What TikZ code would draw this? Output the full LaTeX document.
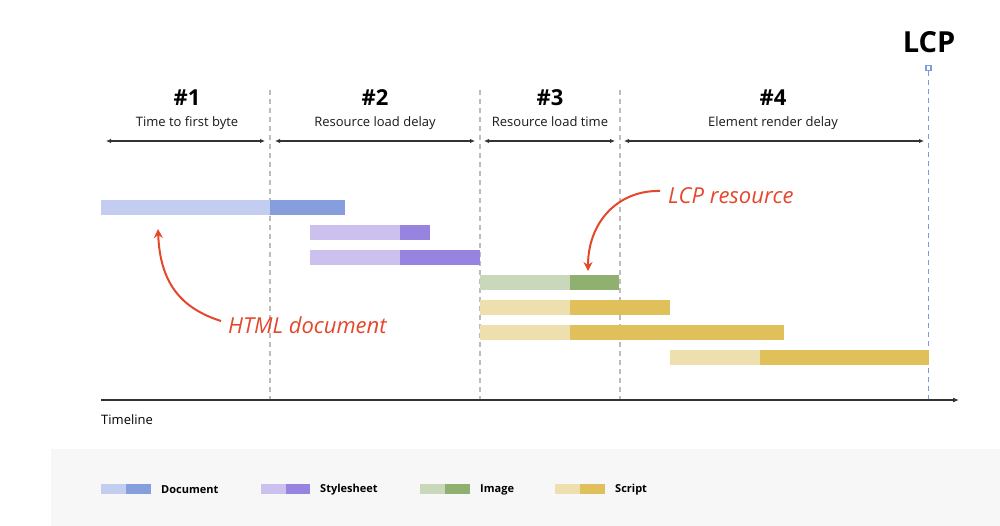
\documentclass[tikz,border=0pt]{standalone}
\usepackage{fontspec}
\setmainfont{Open Sans}
\usetikzlibrary{arrows.meta}
\definecolor{docL}{HTML}{C3CDEF}
\definecolor{docD}{HTML}{869FDC}
\definecolor{cssL}{HTML}{CBC0EE}
\definecolor{cssD}{HTML}{9783E0}
\definecolor{imgL}{HTML}{C9D7BA}
\definecolor{imgD}{HTML}{8FB06E}
\definecolor{jsL}{HTML}{EEDFAE}
\definecolor{jsD}{HTML}{E0C05A}
\definecolor{anno}{HTML}{E5472B}
\definecolor{lcpblue}{HTML}{7B9CE0}
\definecolor{divgray}{HTML}{BDBDBD}
\definecolor{ink}{HTML}{333333}
\definecolor{legbg}{HTML}{F7F7F7}
\begin{document}
\begin{tikzpicture}[x=1pt,y=-1pt,
  phase/.style={font=\bfseries\fontsize{22}{24}\selectfont, anchor=base, inner sep=0},
  sub/.style={font=\fontsize{13}{15}\selectfont, text=black!90, anchor=base, inner sep=0},
  span/.style={{Latex[length=5pt,width=4.5pt]}-{Latex[length=5pt,width=4.5pt]}, ink, line width=1.6pt},
  divider/.style={divgray, line width=1.5pt, dash pattern=on 5pt off 4pt},
  lcpline/.style={lcpblue, line width=1.6pt, dash pattern=on 5pt off 4pt},
  hand/.style={anno, font=\itshape\fontsize{22}{24}\selectfont, inner sep=0pt},
  annoarrow/.style={anno, line width=2pt, -{Stealth[length=9pt,width=9pt]}},
  legtext/.style={font=\bfseries\fontsize{11}{13}\selectfont, anchor=west, inner sep=0},
]
\useasboundingbox (0,0) rectangle (1000,526);
\fill[white] (0,0) rectangle (1000,526);
% legend background
\fill[legbg] (51,449) rectangle (1000,526);

% LCP label and marker
\node[font=\bfseries\fontsize{29}{31}\selectfont, anchor=base, inner sep=0] (lcplbl) at (929,53) {LCP};
\node[draw=lcpblue, line width=1.1pt, minimum size=5pt, inner sep=0] (lcpmark) at (928.5,68) {};
\coordinate (lcpbot) at (928.5,400);
\draw[lcpline] (lcpmark.south) -- (lcpbot);

% phase dividers
\coordinate (d1t) at (270,90); \coordinate (d1b) at (270,400);
\coordinate (d2t) at (480,90); \coordinate (d2b) at (480,400);
\coordinate (d3t) at (620,90); \coordinate (d3b) at (620,400);
\draw[divider] (d1t) -- (d1b);
\draw[divider] (d2t) -- (d2b);
\draw[divider] (d3t) -- (d3b);

% phase headings
\node[phase] (p1) at (187,106) {\#1};
\node[phase] (p2) at (375,106) {\#2};
\node[phase] (p3) at (550,106) {\#3};
\node[phase] (p4) at (773,106) {\#4};
\node[sub] (s1) at (187,127) {Time to first byte};
\node[sub] (s2) at (375,127) {Resource load delay};
\node[sub] (s3) at (550,127) {Resource load time};
\node[sub] (s4) at (773,127) {Element render delay};

% spans
\coordinate (a1l) at (106,141); \coordinate (a1r) at (265,141);
\coordinate (a2l) at (275,141); \coordinate (a2r) at (475,141);
\coordinate (a3l) at (484,141); \coordinate (a3r) at (615,141);
\coordinate (a4l) at (624,141); \coordinate (a4r) at (924,141);
\draw[span] (a1l) -- (a1r);
\draw[span] (a2l) -- (a2r);
\draw[span] (a3l) -- (a3r);
\draw[span] (a4l) -- (a4r);

% bars
\fill[docL] (101,200) rectangle (270,215);
\fill[docD] (270,200) rectangle (345,215);
\fill[cssL] (310,225) rectangle (400,240);
\fill[cssD] (400,225) rectangle (430,240);
\fill[cssL] (310,250) rectangle (400,265);
\fill[cssD] (400,250) rectangle (480,265);
\fill[imgL] (480,275) rectangle (570,290);
\fill[imgD] (570,275) rectangle (619,290);
\fill[jsL] (480,300) rectangle (570,315);
\fill[jsD] (570,300) rectangle (670,315);
\fill[jsL] (480,325) rectangle (570,340);
\fill[jsD] (570,325) rectangle (784,340);
\fill[jsL] (670,350) rectangle (760,365);
\fill[jsD] (760,350) rectangle (929,365);

% timeline axis
\coordinate (ax0) at (101,400);
\coordinate (ax1) at (959,400);
\draw[ink, line width=1.6pt, -{Latex[length=6pt,width=5pt]}] (ax0) -- (ax1);
\node[font=\fontsize{13}{15}\selectfont, anchor=base west, inner sep=0] (tl) at (101,424) {Timeline};

% annotations
\node[hand, anchor=west] (htmltxt) at (228,325) {HTML document};
\coordinate (htmltip) at (158,229);
\draw[annoarrow] ([shift={(-7,-4)}]htmltxt.west) .. controls (180,308) and (160,282) .. (htmltip);
\node[hand, anchor=west] (lcptxt) at (668,196) {LCP resource};
\coordinate (lcptip) at (588,271);
\draw[annoarrow] ([shift={(-8,-5)}]lcptxt.west) .. controls (618,190) and (588,222) .. (lcptip);

% legend
\fill[docL] (101,484) rectangle (126,494); \fill[docD] (126,484) rectangle (151,494);
\node[legtext] (l1) at (161,490) {Document};
\fill[cssL] (261,484) rectangle (286,494); \fill[cssD] (286,484) rectangle (310,494);
\node[legtext] (l2) at (320,490) {Stylesheet};
\fill[imgL] (420,484) rectangle (445,494); \fill[imgD] (445,484) rectangle (470,494);
\node[legtext] (l3) at (480,490) {Image};
\fill[jsL] (555,484) rectangle (580,494); \fill[jsD] (580,484) rectangle (605,494);
\node[legtext] (l4) at (615,490) {Script};
\end{tikzpicture}
\end{document}
